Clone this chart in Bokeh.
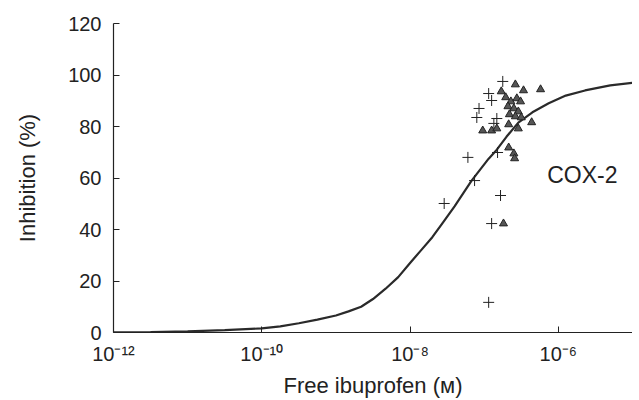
from bokeh.plotting import figure
from bokeh.models import FixedTicker, Range1d, Label
from bokeh.embed import file_html
from bokeh.resources import INLINE

# Fitted curve: log10 concentration (M) and inhibition (%)
curve_logx = [-12.0, -11.5, -11.0, -10.5, -10.0, -9.75, -9.5, -9.25, -9.0, -8.83, -8.66,
              -8.5, -8.33, -8.16, -8.0, -7.85, -7.7, -7.55, -7.4, -7.17, -6.94,
              -6.83, -6.7, -6.54, -6.35, -6.13, -5.9, -5.64, -5.3, -5.0]
curve_pct = [0.1, 0.2, 0.4, 0.9, 1.6, 2.4, 3.6, 5.0, 6.6, 8.2, 10.0,
             13.0, 17.0, 21.5, 27.0, 32.0, 37.0, 43.0, 49.0, 59.0, 67.5,
             71.0, 76.0, 81.5, 85.5, 89.0, 92.0, 94.0, 96.0, 97.0]

# Crosses (+)
cross_logx = [-6.75, -6.94, -6.90, -7.07, -7.10, -6.83, -6.87, -7.22, -6.82,
              -7.13, -7.54, -6.78, -6.90, -6.94]
cross_pct = [97.5, 92.8, 90.1, 87.0, 83.5, 83.1, 81.2, 68.0, 69.9,
             59.0, 50.1, 53.2, 42.3, 11.7]

# Triangles
tri_logx = [-6.58, -6.77, -6.47, -6.24, -6.71, -6.64, -6.56, -6.51, -6.68, -6.60,
            -6.54, -6.66, -6.58, -6.50, -7.02, -6.90, -6.83, -6.67, -6.54, -6.36,
            -6.67, -6.60, -6.59, -6.74]
tri_pct = [96.3, 93.6, 94.0, 94.4, 91.3, 89.7, 90.9, 89.7, 87.8, 87.0,
           85.8, 84.7, 83.9, 83.5, 78.4, 78.4, 79.2, 80.8, 79.2, 81.6,
           71.8, 69.5, 67.6, 42.3]

x_ticks = [1e-12, 1e-10, 1e-8, 1e-6]
x_tick_labels = ["10\u207b\u00b9\u00b2", "10\u207b\u00b9\u2070", "10\u207b\u2078", "10\u207b\u2076"]
y_ticks = [0, 20, 40, 60, 80, 100, 120]

FONT = "Liberation Sans"

p = figure(width=632, height=400, x_axis_type="log",
           x_range=Range1d(1e-12, 1e-5), y_range=Range1d(0, 120),
           output_backend="svg", toolbar_location=None,
           min_border_left=113, min_border_right=0,
           min_border_top=23, min_border_bottom=68)
p.outline_line_color = None
p.grid.visible = False
p.background_fill_color = "white"

p.line([10 ** v for v in curve_logx], curve_pct, line_color="#2a2a2a", line_width=2.2)
p.scatter([10 ** v for v in cross_logx], cross_pct, marker="cross", size=11,
          line_color="#222222", line_width=1)
p.scatter([10 ** v for v in tri_logx], tri_pct, marker="triangle", size=8,
          fill_color="#555555", line_color="#222222", line_width=1)

p.add_layout(Label(x=10 ** -6.15, y=61, text="COX-2", text_font=FONT,
                   text_font_size="23px", text_color="#222222",
                   text_baseline="middle", text_align="left"))

p.xaxis.ticker = FixedTicker(ticks=x_ticks, minor_ticks=[])
p.xaxis.major_label_overrides = {t: l for t, l in zip(x_ticks, x_tick_labels)}
p.yaxis.ticker = FixedTicker(ticks=y_ticks, minor_ticks=[])

for ax in (p.xaxis[0], p.yaxis[0]):
    ax.major_tick_in = 6
    ax.major_tick_out = 0
    ax.minor_tick_line_color = None
    ax.axis_line_color = "#222222"
    ax.major_tick_line_color = "#222222"
    ax.axis_line_width = 1.2
    ax.major_label_text_font = FONT
    ax.major_label_text_font_size = "20px"
    ax.major_label_text_color = "#222222"
    ax.axis_label_text_font = FONT
    ax.axis_label_text_font_size = "22px"
    ax.axis_label_text_font_style = "normal"
    ax.axis_label_text_color = "#222222"

p.xaxis.axis_label = "Free ibuprofen (\u1d0d)"
p.yaxis.axis_label = "Inhibition (%)"
p.xaxis.major_label_standoff = 10
p.xaxis.axis_label_standoff = 5
p.yaxis.major_label_standoff = 12
p.yaxis.axis_label_standoff = 25

open("out.html", "w").write(file_html(p, INLINE))
